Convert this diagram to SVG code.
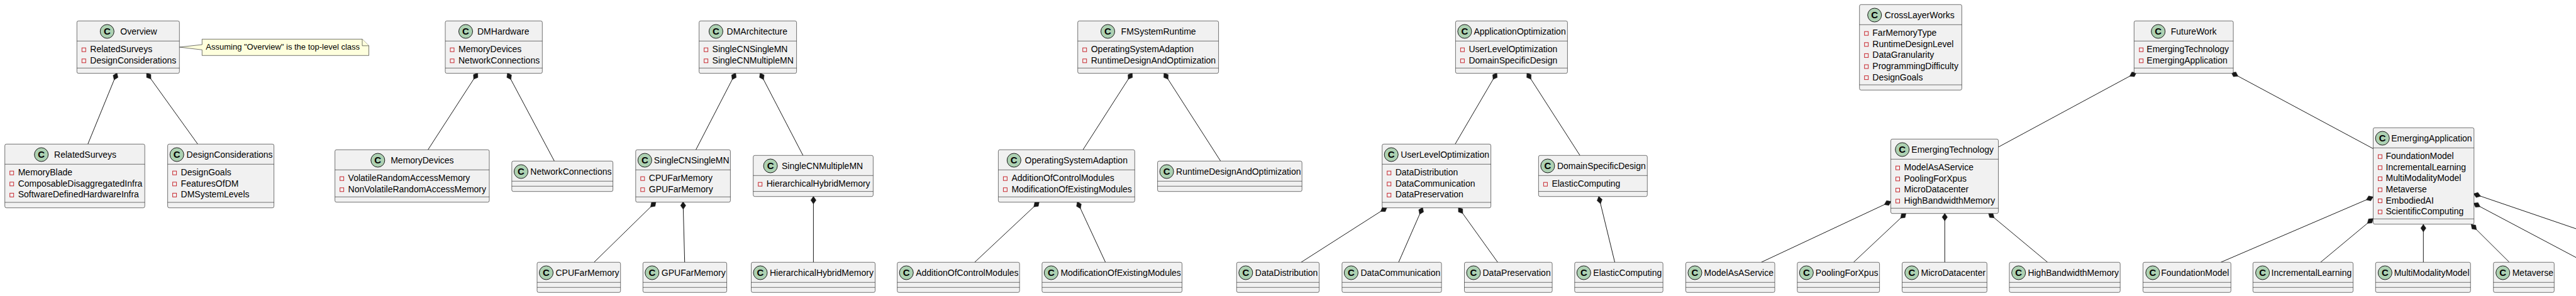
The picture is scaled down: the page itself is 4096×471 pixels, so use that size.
<svg xmlns="http://www.w3.org/2000/svg" width="4096" height="471" viewBox="0 0 4096 471">
<style>
text{font-family:"Liberation Sans",Arial,sans-serif;font-size:14px;fill:#000}
.b{fill:#F1F1F1;stroke:#181818;stroke-width:.6}
.d{stroke:#181818;stroke-width:.6}
.c{fill:#ADD1B2;stroke:#181818;stroke-width:1}
.k{font-weight:bold;font-size:15px;text-anchor:middle}
.p{fill:#F1F1F1;stroke:#C82930;stroke-width:1}
.n{fill:#FEFFDD;stroke:#181818;stroke-width:.6}
.nt{font-size:13px}
#connectors line{stroke:#181818;stroke-width:1;marker-start:url(#comp)}
</style>
<defs>
<marker id="comp" markerUnits="userSpaceOnUse" markerWidth="16" markerHeight="12" refX="1" refY="6" orient="auto"><polygon points="1,6 7,1.8 13,6 7,10.2" fill="#181818" stroke="#181818" stroke-width=".5"/></marker>
</defs>
<g id="connectors">
<line x1="186" y1="116" x2="139.7" y2="229.3"/>
<line x1="233" y1="116" x2="314.4" y2="229.3"/>
<line x1="759.6" y1="116" x2="680.5" y2="238.3"/>
<line x1="806.8" y1="116" x2="881.4" y2="256.3"/>
<line x1="1043" y1="321" x2="944.6" y2="417.3"/>
<line x1="1086.1" y1="321" x2="1088.7" y2="417.3"/>
<line x1="1169.7" y1="116" x2="1106.5" y2="238.3"/>
<line x1="1208.6" y1="116" x2="1276.8" y2="247.3"/>
<line x1="1293.4" y1="312.5" x2="1293.4" y2="417.3"/>
<line x1="1800.4" y1="116" x2="1722" y2="238.3"/>
<line x1="1850.8" y1="116" x2="1940.8" y2="256.3"/>
<line x1="1652.5" y1="321" x2="1549.8" y2="417.3"/>
<line x1="1713" y1="321" x2="1757.7" y2="417.3"/>
<line x1="2380.1" y1="116" x2="2313.8" y2="229.3"/>
<line x1="2427.9" y1="116" x2="2512.2" y2="247.3"/>
<line x1="2205.4" y1="330" x2="2068.9" y2="417.3"/>
<line x1="2262.1" y1="330" x2="2223.9" y2="417.3"/>
<line x1="2318.9" y1="330" x2="2381.4" y2="417.3"/>
<line x1="2542.1" y1="312.5" x2="2567.6" y2="417.3"/>
<line x1="3007" y1="320.5" x2="2800.5" y2="417.3"/>
<line x1="3030.7" y1="339" x2="2947.3" y2="417.3"/>
<line x1="3092.3" y1="339.5" x2="3092.3" y2="417.3"/>
<line x1="3161.7" y1="339" x2="3255.7" y2="417.3"/>
<line x1="3397" y1="115.5" x2="3177.5" y2="234"/>
<line x1="3548" y1="115.5" x2="3773.8" y2="236.7"/>
<line x1="3773.5" y1="313.3" x2="3531.3" y2="417.3"/>
<line x1="3773.5" y1="347.7" x2="3689.9" y2="417.3"/>
<line x1="3853.3" y1="357" x2="3853.3" y2="417"/>
<line x1="3929.3" y1="357" x2="3989.7" y2="417"/>
<line x1="3933" y1="308.3" x2="4140" y2="379"/>
<line x1="3933" y1="323.3" x2="4140" y2="433"/>
</g>
<g id="note">
<path class="n" d="M321.3 62.3H576L586.5 72.8V88.3H321.3V79.3L285.3 75L321.3 71Z"/>
<path class="n" d="M576 62.3V72.8H586.5"/>
<text class="nt" x="327.3" y="79.3">Assuming "Overview" is the top-level class</text>
</g>
<g id="Overview" transform="translate(122.3,33.3)"><rect class="b" width="163" height="83.4" rx="2.5"/><path class="d" d="M0 32H163M0 75H163"/><circle class="c" cx="48" cy="16.7" r="11"/><text class="k" x="48" y="21.7">C</text><text x="69" y="21.7">Overview</text><rect class="p" x="8" y="42.9" width="6" height="6"/><text x="21" y="50">RelatedSurveys</text><rect class="p" x="8" y="60.5" width="6" height="6"/><text x="21" y="67.6">DesignConsiderations</text></g>
<g id="RelatedSurveys" transform="translate(7.7,229.3)"><rect class="b" width="222.5" height="101.4" rx="2.5"/><path class="d" d="M0 32H222.5M0 92.7H222.5"/><circle class="c" cx="58" cy="16.7" r="11"/><text class="k" x="58" y="21.7">C</text><text x="78.4" y="21.7">RelatedSurveys</text><rect class="p" x="8" y="42.9" width="6" height="6"/><text x="21" y="50">MemoryBlade</text><rect class="p" x="8" y="60.5" width="6" height="6"/><text x="21" y="67.6">ComposableDisaggregatedInfra</text><rect class="p" x="8" y="78.1" width="6" height="6"/><text x="21" y="85.2">SoftwareDefinedHardwareInfra</text></g>
<g id="DesignConsiderations" transform="translate(266.6,229.3)"><rect class="b" width="169" height="101.4" rx="2.5"/><path class="d" d="M0 32H169M0 92.7H169"/><circle class="c" cx="14.6" cy="16.7" r="11"/><text class="k" x="14.6" y="21.7">C</text><text x="30" y="21.7">DesignConsiderations</text><rect class="p" x="8" y="42.9" width="6" height="6"/><text x="21" y="50">DesignGoals</text><rect class="p" x="8" y="60.5" width="6" height="6"/><text x="21" y="67.6">FeaturesOfDM</text><rect class="p" x="8" y="78.1" width="6" height="6"/><text x="21" y="85.2">DMSystemLevels</text></g>
<g id="DMHardware" transform="translate(708,33.3)"><rect class="b" width="154.3" height="83.4" rx="2.5"/><path class="d" d="M0 32H154.3M0 75H154.3"/><circle class="c" cx="32.5" cy="16.7" r="11"/><text class="k" x="32.5" y="21.7">C</text><text x="51" y="21.7">DMHardware</text><rect class="p" x="8" y="42.9" width="6" height="6"/><text x="21" y="50">MemoryDevices</text><rect class="p" x="8" y="60.5" width="6" height="6"/><text x="21" y="67.6">NetworkConnections</text></g>
<g id="MemoryDevices" transform="translate(532.6,238.3)"><rect class="b" width="245.4" height="83.4" rx="2.5"/><path class="d" d="M0 32H245.4M0 75H245.4"/><circle class="c" cx="68.2" cy="16.7" r="11"/><text class="k" x="68.2" y="21.7">C</text><text x="88.6" y="21.7">MemoryDevices</text><rect class="p" x="8" y="42.9" width="6" height="6"/><text x="21" y="50">VolatileRandomAccessMemory</text><rect class="p" x="8" y="60.5" width="6" height="6"/><text x="21" y="67.6">NonVolatileRandomAccessMemory</text></g>
<g id="NetworkConnections" transform="translate(813.8,256.3)"><rect class="b" width="160.8" height="48.4" rx="2.5"/><path class="d" d="M0 32H160.8M0 40H160.8"/><circle class="c" cx="14.7" cy="16.7" r="11"/><text class="k" x="14.7" y="21.7">C</text><text x="29.5" y="21.7">NetworkConnections</text></g>
<g id="CPUFarMemory" transform="translate(854,417.3)"><rect class="b" width="132.7" height="48" rx="2.5"/><path class="d" d="M0 32H132.7M0 40H132.7"/><circle class="c" cx="14.5" cy="16.7" r="11"/><text class="k" x="14.5" y="21.7">C</text><text x="29.5" y="21.7">CPUFarMemory</text></g>
<g id="DMArchitecture" transform="translate(1111.6,33.3)"><rect class="b" width="155" height="83.4" rx="2.5"/><path class="d" d="M0 32H155M0 75H155"/><circle class="c" cx="26.8" cy="16.7" r="11"/><text class="k" x="26.8" y="21.7">C</text><text x="44" y="21.7">DMArchitecture</text><rect class="p" x="8" y="42.9" width="6" height="6"/><text x="21" y="50">SingleCNSingleMN</text><rect class="p" x="8" y="60.5" width="6" height="6"/><text x="21" y="67.6">SingleCNMultipleMN</text></g>
<g id="SingleCNSingleMN" transform="translate(1010.8,238.3)"><rect class="b" width="150.6" height="83.4" rx="2.5"/><path class="d" d="M0 32H150.6M0 75H150.6"/><circle class="c" cx="14.5" cy="16.7" r="11"/><text class="k" x="14.5" y="21.7">C</text><text x="29" y="21.7">SingleCNSingleMN</text><rect class="p" x="8" y="42.9" width="6" height="6"/><text x="21" y="50">CPUFarMemory</text><rect class="p" x="8" y="60.5" width="6" height="6"/><text x="21" y="67.6">GPUFarMemory</text></g>
<g id="SingleCNMultipleMN" transform="translate(1197.7,247.3)"><rect class="b" width="190.7" height="65.4" rx="2.5"/><path class="d" d="M0 32H190.7M0 57.3H190.7"/><circle class="c" cx="27.4" cy="16.7" r="11"/><text class="k" x="27.4" y="21.7">C</text><text x="45.3" y="21.7">SingleCNMultipleMN</text><rect class="p" x="8" y="42.9" width="6" height="6"/><text x="21" y="50">HierarchicalHybridMemory</text></g>
<g id="GPUFarMemory" transform="translate(1022.3,417.3)"><rect class="b" width="133.3" height="48" rx="2.5"/><path class="d" d="M0 32H133.3M0 40H133.3"/><circle class="c" cx="14.5" cy="16.7" r="11"/><text class="k" x="14.5" y="21.7">C</text><text x="29.5" y="21.7">GPUFarMemory</text></g>
<g id="HierarchicalHybridMemory" transform="translate(1194.5,417.3)"><rect class="b" width="197" height="48" rx="2.5"/><path class="d" d="M0 32H197M0 40H197"/><circle class="c" cx="14.5" cy="16.7" r="11"/><text class="k" x="14.5" y="21.7">C</text><text x="29.5" y="21.7">HierarchicalHybridMemory</text></g>
<g id="FMSystemRuntime" transform="translate(1713.7,33.3)"><rect class="b" width="223.9" height="83.4" rx="2.5"/><path class="d" d="M0 32H223.9M0 75H223.9"/><circle class="c" cx="47.8" cy="16.7" r="11"/><text class="k" x="47.8" y="21.7">C</text><text x="68.9" y="21.7">FMSystemRuntime</text><rect class="p" x="8" y="42.9" width="6" height="6"/><text x="21" y="50">OperatingSystemAdaption</text><rect class="p" x="8" y="60.5" width="6" height="6"/><text x="21" y="67.6">RuntimeDesignAndOptimization</text></g>
<g id="OperatingSystemAdaption" transform="translate(1587.4,238.3)"><rect class="b" width="216.9" height="83.4" rx="2.5"/><path class="d" d="M0 32H216.9M0 75H216.9"/><circle class="c" cx="24.9" cy="16.7" r="11"/><text class="k" x="24.9" y="21.7">C</text><text x="42.1" y="21.7">OperatingSystemAdaption</text><rect class="p" x="8" y="42.9" width="6" height="6"/><text x="21" y="50">AdditionOfControlModules</text><rect class="p" x="8" y="60.5" width="6" height="6"/><text x="21" y="67.6">ModificationOfExistingModules</text></g>
<g id="RuntimeDesignAndOptimization" transform="translate(1840.6,256.3)"><rect class="b" width="229.6" height="48.4" rx="2.5"/><path class="d" d="M0 32H229.6M0 40H229.6"/><circle class="c" cx="14.5" cy="16.7" r="11"/><text class="k" x="14.5" y="21.7">C</text><text x="29.5" y="21.7">RuntimeDesignAndOptimization</text></g>
<g id="AdditionOfControlModules" transform="translate(1426.7,417.3)"><rect class="b" width="194.5" height="48" rx="2.5"/><path class="d" d="M0 32H194.5M0 40H194.5"/><circle class="c" cx="14.5" cy="16.7" r="11"/><text class="k" x="14.5" y="21.7">C</text><text x="29.5" y="21.7">AdditionOfControlModules</text></g>
<g id="ModificationOfExistingModules" transform="translate(1656.9,417.3)"><rect class="b" width="222.6" height="48" rx="2.5"/><path class="d" d="M0 32H222.6M0 40H222.6"/><circle class="c" cx="14.5" cy="16.7" r="11"/><text class="k" x="14.5" y="21.7">C</text><text x="29.5" y="21.7">ModificationOfExistingModules</text></g>
<g id="ApplicationOptimization" transform="translate(2314.4,33.3)"><rect class="b" width="178" height="83.4" rx="2.5"/><path class="d" d="M0 32H178M0 75H178"/><circle class="c" cx="14.5" cy="16.7" r="11"/><text class="k" x="14.5" y="21.7">C</text><text x="29" y="21.7">ApplicationOptimization</text><rect class="p" x="8" y="42.9" width="6" height="6"/><text x="21" y="50">UserLevelOptimization</text><rect class="p" x="8" y="60.5" width="6" height="6"/><text x="21" y="67.6">DomainSpecificDesign</text></g>
<g id="UserLevelOptimization" transform="translate(2197.7,229.3)"><rect class="b" width="172.9" height="101.4" rx="2.5"/><path class="d" d="M0 32H172.9M0 92.7H172.9"/><circle class="c" cx="14.5" cy="16.7" r="11"/><text class="k" x="14.5" y="21.7">C</text><text x="29.5" y="21.7">UserLevelOptimization</text><rect class="p" x="8" y="42.9" width="6" height="6"/><text x="21" y="50">DataDistribution</text><rect class="p" x="8" y="60.5" width="6" height="6"/><text x="21" y="67.6">DataCommunication</text><rect class="p" x="8" y="78.1" width="6" height="6"/><text x="21" y="85.2">DataPreservation</text></g>
<g id="DomainSpecificDesign" transform="translate(2446.4,247.3)"><rect class="b" width="172.9" height="65.4" rx="2.5"/><path class="d" d="M0 32H172.9M0 57.3H172.9"/><circle class="c" cx="14.5" cy="16.7" r="11"/><text class="k" x="14.5" y="21.7">C</text><text x="29.5" y="21.7">DomainSpecificDesign</text><rect class="p" x="8" y="42.9" width="6" height="6"/><text x="21" y="50">ElasticComputing</text></g>
<g id="DataDistribution" transform="translate(1966.3,417.3)"><rect class="b" width="131.3" height="48" rx="2.5"/><path class="d" d="M0 32H131.3M0 40H131.3"/><circle class="c" cx="14.5" cy="16.7" r="11"/><text class="k" x="14.5" y="21.7">C</text><text x="29.5" y="21.7">DataDistribution</text></g>
<g id="DataCommunication" transform="translate(2133.9,417.3)"><rect class="b" width="158.2" height="48" rx="2.5"/><path class="d" d="M0 32H158.2M0 40H158.2"/><circle class="c" cx="14.5" cy="16.7" r="11"/><text class="k" x="14.5" y="21.7">C</text><text x="29.5" y="21.7">DataCommunication</text></g>
<g id="DataPreservation" transform="translate(2328.5,417.3)"><rect class="b" width="139.6" height="48" rx="2.5"/><path class="d" d="M0 32H139.6M0 40H139.6"/><circle class="c" cx="14.5" cy="16.7" r="11"/><text class="k" x="14.5" y="21.7">C</text><text x="29" y="21.7">DataPreservation</text></g>
<g id="ElasticComputing" transform="translate(2503.8,417.3)"><rect class="b" width="140.4" height="48" rx="2.5"/><path class="d" d="M0 32H140.4M0 40H140.4"/><circle class="c" cx="14.5" cy="16.7" r="11"/><text class="k" x="14.5" y="21.7">C</text><text x="29.5" y="21.7">ElasticComputing</text></g>
<g id="ModelAsAService" transform="translate(2680.5,417.3)"><rect class="b" width="141.5" height="48" rx="2.5"/><path class="d" d="M0 32H141.5M0 40H141.5"/><circle class="c" cx="14.5" cy="16.7" r="11"/><text class="k" x="14.5" y="21.7">C</text><text x="29" y="21.7">ModelAsAService</text></g>
<g id="PoolingForXpus" transform="translate(2857.8,417.3)"><rect class="b" width="130.8" height="48" rx="2.5"/><path class="d" d="M0 32H130.8M0 40H130.8"/><circle class="c" cx="14.5" cy="16.7" r="11"/><text class="k" x="14.5" y="21.7">C</text><text x="29" y="21.7">PoolingForXpus</text></g>
<g id="CrossLayerWorks" transform="translate(2956.7,7.3)"><rect class="b" width="162.7" height="136" rx="2.5"/><path class="d" d="M0 32H162.7M0 127.7H162.7"/><circle class="c" cx="24" cy="16.7" r="11"/><text class="k" x="24" y="21.7">C</text><text x="40" y="21.7">CrossLayerWorks</text><rect class="p" x="8" y="42.9" width="6" height="6"/><text x="20.6" y="50">FarMemoryType</text><rect class="p" x="8" y="60.5" width="6" height="6"/><text x="20.6" y="67.6">RuntimeDesignLevel</text><rect class="p" x="8" y="78.1" width="6" height="6"/><text x="20.6" y="85.2">DataGranularity</text><rect class="p" x="8" y="95.7" width="6" height="6"/><text x="20.6" y="102.8">ProgrammingDifficulty</text><rect class="p" x="8" y="113.3" width="6" height="6"/><text x="20.6" y="120.4">DesignGoals</text></g>
<g id="FutureWork" transform="translate(3393.3,33.3)"><rect class="b" width="157.8" height="83.4" rx="2.5"/><path class="d" d="M0 32H157.8M0 75H157.8"/><circle class="c" cx="38.4" cy="16.7" r="11"/><text class="k" x="38.4" y="21.7">C</text><text x="58.4" y="21.7">FutureWork</text><rect class="p" x="8.4" y="42.9" width="6" height="6"/><text x="20" y="50">EmergingTechnology</text><rect class="p" x="8.4" y="60.5" width="6" height="6"/><text x="20" y="67.6">EmergingApplication</text></g>
<g id="EmergingTechnology" transform="translate(3006.5,221.3)"><rect class="b" width="171" height="118.4" rx="2.5"/><path class="d" d="M0 32H171M0 110H171"/><circle class="c" cx="18.2" cy="16.7" r="11"/><text class="k" x="18.2" y="21.7">C</text><text x="32.8" y="21.7">EmergingTechnology</text><rect class="p" x="8" y="42.9" width="6" height="6"/><text x="21" y="50">ModelAsAService</text><rect class="p" x="8" y="60.5" width="6" height="6"/><text x="21" y="67.6">PoolingForXpus</text><rect class="p" x="8" y="78.1" width="6" height="6"/><text x="21" y="85.2">MicroDatacenter</text><rect class="p" x="8" y="95.7" width="6" height="6"/><text x="21" y="102.8">HighBandwidthMemory</text></g>
<g id="EmergingApplication" transform="translate(3773.5,203.3)"><rect class="b" width="160.3" height="153.4" rx="2.5"/><path class="d" d="M0 32H160.3M0 145H160.3"/><circle class="c" cx="14.7" cy="16.7" r="11"/><text class="k" x="14.7" y="21.7">C</text><text x="28.7" y="21.7">EmergingApplication</text><rect class="p" x="8" y="42.9" width="6" height="6"/><text x="20" y="50">FoundationModel</text><rect class="p" x="8" y="60.5" width="6" height="6"/><text x="20" y="67.6">IncrementalLearning</text><rect class="p" x="8" y="78.1" width="6" height="6"/><text x="20" y="85.2">MultiModalityModel</text><rect class="p" x="8" y="95.7" width="6" height="6"/><text x="20" y="102.8">Metaverse</text><rect class="p" x="8" y="113.3" width="6" height="6"/><text x="20" y="120.4">EmbodiedAI</text><rect class="p" x="8" y="130.9" width="6" height="6"/><text x="20" y="138">ScientificComputing</text></g>
<g id="MicroDatacenter" transform="translate(3024.5,417.3)"><rect class="b" width="134.9" height="48" rx="2.5"/><path class="d" d="M0 32H134.9M0 40H134.9"/><circle class="c" cx="15.3" cy="16.7" r="11"/><text class="k" x="15.3" y="21.7">C</text><text x="30" y="21.7">MicroDatacenter</text></g>
<g id="HighBandwidthMemory" transform="translate(3195,417.3)"><rect class="b" width="176.2" height="48" rx="2.5"/><path class="d" d="M0 32H176.2M0 40H176.2"/><circle class="c" cx="14.7" cy="16.7" r="11"/><text class="k" x="14.7" y="21.7">C</text><text x="29.4" y="21.7">HighBandwidthMemory</text></g>
<g id="FoundationModel" transform="translate(3407.5,417.3)"><rect class="b" width="139.8" height="48" rx="2.5"/><path class="d" d="M0 32H139.8M0 40H139.8"/><circle class="c" cx="15.4" cy="16.7" r="11"/><text class="k" x="15.4" y="21.7">C</text><text x="28.7" y="21.7">FoundationModel</text></g>
<g id="IncrementalLearning" transform="translate(3582.3,417.3)"><rect class="b" width="159.3" height="48" rx="2.5"/><path class="d" d="M0 32H159.3M0 40H159.3"/><circle class="c" cx="15.3" cy="16.7" r="11"/><text class="k" x="15.3" y="21.7">C</text><text x="29.3" y="21.7">IncrementalLearning</text></g>
<g id="MultiModalityModel" transform="translate(3777.3,417.3)"><rect class="b" width="151" height="48" rx="2.5"/><path class="d" d="M0 32H151M0 40H151"/><circle class="c" cx="15" cy="16.7" r="11"/><text class="k" x="15" y="21.7">C</text><text x="29.4" y="21.7">MultiModalityModel</text></g>
<g id="Metaverse" transform="translate(3964.7,417.3)"><rect class="b" width="96.6" height="48" rx="2.5"/><path class="d" d="M0 32H96.6M0 40H96.6"/><circle class="c" cx="15" cy="16.7" r="11"/><text class="k" x="15" y="21.7">C</text><text x="30" y="21.7">Metaverse</text></g>
</svg>
